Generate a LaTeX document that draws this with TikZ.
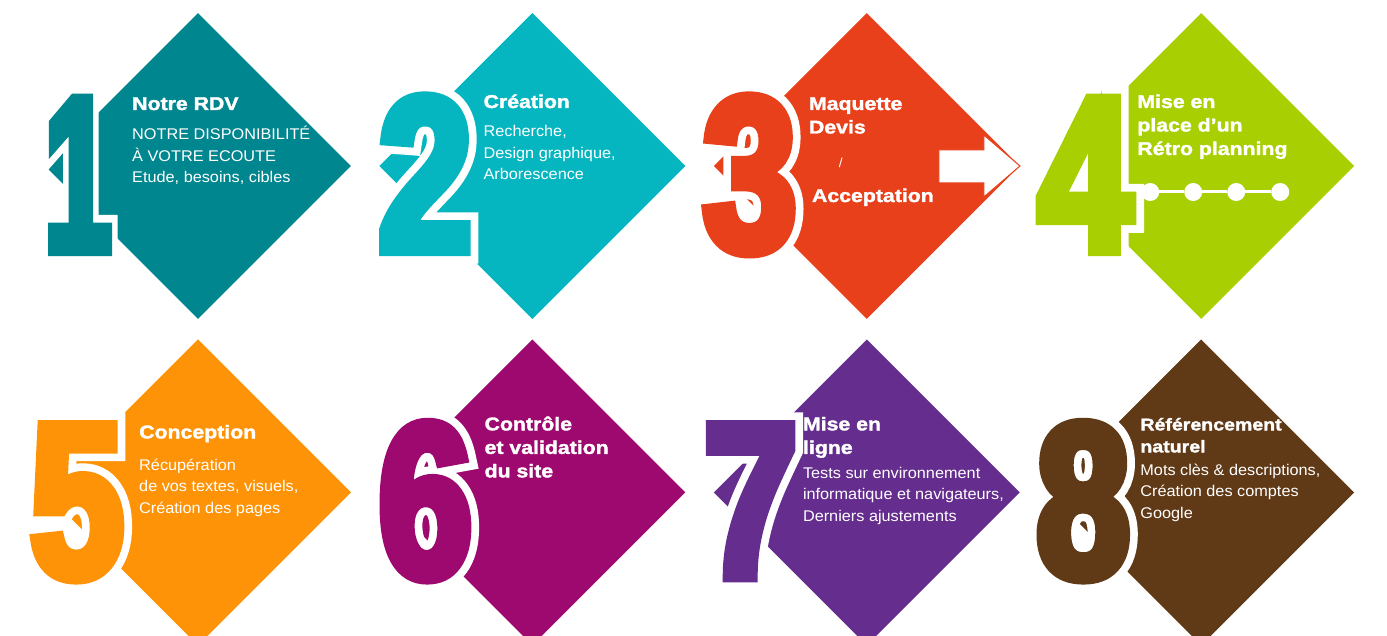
\documentclass[tikz,border=0pt]{standalone}
\usepackage{fontspec}
\setmainfont{Liberation Sans}
\newfontfamily\headface{Liberation Sans}[FakeStretch=1.15,FakeBold=1.8]
\newfontfamily\bodyface{Liberation Sans}[FakeStretch=1.05]
\newfontfamily\digitface{Liberation Sans}[FakeStretch=0.76,FakeBold=5]
\newfontfamily\rimface{Liberation Sans}[FakeStretch=0.76,FakeBold=12]
\usetikzlibrary{shapes.geometric,positioning,calc}

\definecolor{rdvcol}{HTML}{00868F}
\definecolor{creacol}{HTML}{05B5C0}
\definecolor{maqcol}{HTML}{E8401A}
\definecolor{plancol}{HTML}{A7CF02}
\definecolor{concol}{HTML}{FF9307}
\definecolor{valcol}{HTML}{9D096E}
\definecolor{lignecol}{HTML}{652D8E}
\definecolor{refcol}{HTML}{603916}

\newcommand{\stepstack}[1]{\begin{tabular}[t]{@{}l@{}}#1\end{tabular}}

\begin{document}
\begin{tikzpicture}[x=1pt,y=-1pt,node distance=28pt,
    stepbox/.style={diamond,minimum width=306pt,minimum height=306pt,inner sep=0pt,fill=#1},
    rim/.style={font=\rimface\bfseries\fontsize{220}{220}\selectfont,text=white,anchor=base,inner sep=0pt},
    num/.style={font=\digitface\bfseries\fontsize{220}{220}\selectfont,text=#1,anchor=base,inner sep=0pt},
    head/.style={font=\headface\bfseries\fontsize{18.5}{23.5}\selectfont,text=white,anchor=base west,inner sep=0pt},
    smallhead/.style={font=\headface\bfseries\fontsize{17}{22}\selectfont,text=white,anchor=base west,inner sep=0pt},
    body/.style={font=\bodyface\fontsize{15.5}{21.5}\selectfont,text=white,anchor=base west,inner sep=0pt},
    dot/.style={circle,fill=white,minimum size=18pt,inner sep=0pt}]

    \useasboundingbox (0,0) rectangle (1387,636);

    % the eight steps
    \node[stepbox=rdvcol] (d1) at (198,166) {};
    \node[stepbox=creacol] (d2) [right=of d1] {};
    \node[stepbox=maqcol] (d3) [right=of d2] {};
    \node[stepbox=plancol] (d4) [right=of d3] {};
    \node[stepbox=concol] (d5) [below=20pt of d1] {};
    \node[stepbox=valcol] (d6) [right=of d5] {};
    \node[stepbox=lignecol] (d7) [right=of d6] {};
    \node[stepbox=refcol] (d8) [right=of d7] {};

    % big numbers
    \foreach \d/\dx/\s/\c in {1/-120/0.72/rdvcol, 2/-107/1/creacol, 3/-117/1/maqcol, 4/-116/1/plancol,
                              5/-121/1/concol, 6/-107/1/valcol, 7/-116/1/lignecol, 8/-118/1/refcol} {
        \node[rim] (n\d r) at ($(d\d)+(\dx,84.5)$) {\scalebox{\s}[1]{\d}};
        \node[num=\c] (n\d) at (n\d r.base) {\scalebox{\s}[1]{\d}};
    }

    % arrow of step 3
    \draw[maqcol,fill=white,line width=1pt]
        ($(d3)+(72,-16)$) -- ($(d3)+(117,-16)$) -- ($(d3)+(117,-31)$)
        -- (d3.east) -- ($(d3)+(117,31)$) -- ($(d3)+(117,17)$) -- ($(d3)+(72,17)$) -- cycle;

    % planning of step 4
    \node[dot] (p1) at ($(d4)+(-51,26)$) {};
    \node[dot] (p2) at ($(d4)+(-8,26)$) {};
    \node[dot] (p3) at ($(d4)+(35,26)$) {};
    \node[dot] (p4) at ($(d4)+(79,26)$) {};
    \draw[white,line width=3pt] (p1) -- (p2) -- (p3) -- (p4);

    % texts
    \node[head] (h1) at ($(d1)+(-66,-56)$) {Notre RDV};
    \node[body] (b1) at ($(d1)+(-66,-26)$)
        {\stepstack{NOTRE DISPONIBILITÉ\\À VOTRE ECOUTE\\Etude, besoins, cibles}};

    \node[head] (h2) at ($(d2)+(-49,-58)$) {Création};
    \node[body] (b2) at ($(d2)+(-49,-29)$)
        {\stepstack{Recherche,\\Design graphique,\\Arborescence}};

    \node[head] (h3) at ($(d3)+(-58,-56)$) {\stepstack{Maquette\\Devis}};
    \node[font=\bodyface\fontsize{13}{13}\selectfont,text=white,inner sep=0pt] (s3) at ($(d3)+(-26,-3)$) {/};
    \node[head] (a3) at ($(d3)+(-55,36)$) {Acceptation};

    \node[head] (h4) at ($(d4)+(-64,-58)$) {\stepstack{Mise en\\place d’un\\Rétro planning}};

    \node[head] (h5) at ($(d5)+(-59,-54)$) {Conception};
    \node[body] (b5) at ($(d5)+(-59,-22)$)
        {\stepstack{Récupération\\de vos textes, visuels,\\Création des pages}};

    \node[head] (h6) at ($(d6)+(-48,-62)$) {\stepstack{Contrôle\\et validation\\du site}};

    \node[head] (h7) at ($(d7)+(-64,-62)$) {\stepstack{Mise en\\ligne}};
    \node[body] (b7) at ($(d7)+(-64,-14)$)
        {\stepstack{Tests sur environnement\\informatique et navigateurs,\\Derniers ajustements}};

    \node[smallhead] (h8) at ($(d8)+(-61,-62)$) {\stepstack{Référencement\\naturel}};
    \node[body] (b8) at ($(d8)+(-61,-17)$)
        {\stepstack{Mots clès \& descriptions,\\Création des comptes\\Google}};
\end{tikzpicture}
\end{document}
